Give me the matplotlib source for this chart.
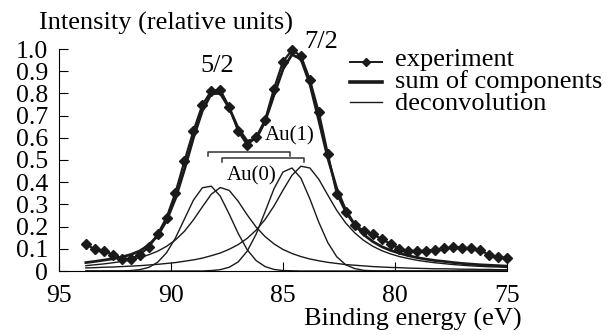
import matplotlib
matplotlib.use("Agg")
import matplotlib.pyplot as plt
from matplotlib.lines import Line2D

# binding energy grid (eV)
energy = [93.8, 93.4, 93.0, 92.6, 92.2, 91.8, 91.4, 91.0, 90.6, 90.2,
          89.8, 89.4, 89.0, 88.6, 88.2, 87.8, 87.4, 87.0, 86.6, 86.2,
          85.8, 85.4, 85.0, 84.6, 84.2, 83.8, 83.4, 83.0, 82.6, 82.2,
          81.8, 81.4, 81.0, 80.6, 80.2, 79.8, 79.4, 79.0, 78.6, 78.2,
          77.8, 77.4, 77.0, 76.6, 76.2, 75.8, 75.4, 75.0]

experiment = [0.120, 0.098, 0.090, 0.074, 0.056, 0.052, 0.074, 0.106, 0.165, 0.240,
              0.353, 0.495, 0.630, 0.748, 0.812, 0.816, 0.737, 0.630, 0.568, 0.602,
              0.680, 0.822, 0.943, 0.995, 0.969, 0.861, 0.714, 0.528, 0.348, 0.265,
              0.207, 0.182, 0.165, 0.145, 0.122, 0.100, 0.091, 0.091, 0.091, 0.096,
              0.102, 0.106, 0.105, 0.102, 0.094, 0.072, 0.061, 0.060]

# deconvolution components
au1_52 = [0.000, 0.000, 0.000, 0.000, 0.000, 0.002, 0.006, 0.016, 0.039, 0.082,
          0.149, 0.234, 0.319, 0.375, 0.382, 0.337, 0.256, 0.169, 0.096, 0.047,
          0.020, 0.007, 0.002, 0.001, 0.000, 0.000, 0.000, 0.000, 0.000, 0.000,
          0.000, 0.000, 0.000, 0.000, 0.000, 0.000, 0.000, 0.000, 0.000, 0.000,
          0.000, 0.000, 0.000, 0.000, 0.000, 0.000, 0.000, 0.000]
au0_52 = [0.024, 0.028, 0.032, 0.037, 0.043, 0.050, 0.060, 0.073, 0.089, 0.111,
          0.140, 0.179, 0.230, 0.289, 0.346, 0.376, 0.363, 0.314, 0.253, 0.198,
          0.155, 0.122, 0.097, 0.079, 0.065, 0.054, 0.046, 0.039, 0.034, 0.029,
          0.026, 0.023, 0.020, 0.018, 0.016, 0.015, 0.013, 0.012, 0.011, 0.010,
          0.010, 0.009, 0.008, 0.008, 0.007, 0.007, 0.006, 0.006]
au1_72 = [0.000, 0.000, 0.000, 0.000, 0.000, 0.000, 0.000, 0.000, 0.000, 0.000,
          0.000, 0.000, 0.000, 0.000, 0.002, 0.006, 0.017, 0.041, 0.089, 0.166,
          0.267, 0.371, 0.446, 0.464, 0.418, 0.325, 0.219, 0.128, 0.064, 0.028,
          0.011, 0.003, 0.001, 0.000, 0.000, 0.000, 0.000, 0.000, 0.000, 0.000,
          0.000, 0.000, 0.000, 0.000, 0.000, 0.000, 0.000, 0.000]
au0_72 = [0.014, 0.015, 0.017, 0.018, 0.020, 0.022, 0.024, 0.027, 0.030, 0.034,
          0.038, 0.044, 0.050, 0.058, 0.069, 0.081, 0.098, 0.119, 0.147, 0.184,
          0.232, 0.293, 0.364, 0.431, 0.472, 0.464, 0.413, 0.342, 0.273, 0.216,
          0.172, 0.138, 0.112, 0.092, 0.077, 0.065, 0.056, 0.048, 0.042, 0.037,
          0.033, 0.029, 0.026, 0.023, 0.021, 0.019, 0.018, 0.016]

# peak positions of the doublets (eV), used for the brackets
au1_peaks = [88.35, 84.69]
au0_peaks = [87.72, 84.06]

components = [au1_52, au0_52, au1_72, au0_72]
total = [sum(vals) for vals in zip(*components)]

ink = '#1a1a1a'
plt.rcParams['font.family'] = 'serif'
plt.rcParams['font.serif'] = ['Liberation Serif', 'DejaVu Serif']
fig = plt.figure(figsize=(6.11, 3.35), dpi=100)
ax = fig.add_axes([59 / 611, 64 / 335, 448 / 611, 222 / 335])

for comp in components:
    ax.plot(energy, comp, color=ink, lw=1.0)
ax.plot(energy, total, color=ink, lw=2.0)
ax.plot(energy, experiment, color=ink, lw=1.6, marker='D', ms=5, clip_on=False)

# doublet brackets
ax.plot([au1_peaks[0], au1_peaks[0], au1_peaks[1], au1_peaks[1]],
        [0.518, 0.538, 0.538, 0.518], color='#333333', lw=1.1)
ax.plot([au0_peaks[0], au0_peaks[0], au0_peaks[1], au0_peaks[1]],
        [0.49, 0.51, 0.51, 0.49], color='#333333', lw=1.1)
ax.text(au1_peaks[1], 0.61, 'Au(1)', fontsize=15, ha='center', va='center')
ax.text(86.38, 0.43, 'Au(0)', fontsize=15, ha='center', va='center')
ax.text(87.95, 0.925, '5/2', fontsize=19, ha='center', va='center')
ax.text(83.3, 1.03, '7/2', fontsize=19, ha='center', va='center')

ax.set_xlim(95, 75)
ax.set_ylim(0, 1.0)
ax.spines['top'].set_visible(False)
ax.spines['right'].set_visible(False)
ax.set_xticks([95, 90, 85, 80, 75])
ax.set_yticks([0, 0.1, 0.2, 0.3, 0.4, 0.5, 0.6, 0.7, 0.8, 0.9, 1.0])
ax.set_yticklabels(['0', '0.1', '0.2', '0.3', '0.4', '0.5', '0.6', '0.7', '0.8', '0.9', '1.0'])
ax.tick_params(direction='in', length=6.5, labelsize=18.5)
ax.tick_params(axis='x', pad=10)
ax.tick_params(axis='y', pad=8)

fig.text(39 / 611, 1 - 23 / 335, 'Intensity (relative units)', fontsize=19, va='center')
fig.text(522 / 611, 1 - 319 / 335, 'Binding energy (eV)', fontsize=19, ha='right', va='center')

# legend drawn by hand to get the tight row spacing of the original
legend_rows = [('experiment', 1.4, 'D'), ('sum of components', 2.6, None), ('deconvolution', 1.0, None)]
for i, (label, width, mk) in enumerate(legend_rows):
    y = 1 - (62 + 20 * i) / 335
    fig.add_artist(Line2D([350 / 611, 382 / 611], [y, y], color=ink, lw=width))
    if mk:
        fig.add_artist(Line2D([366 / 611], [y], color=ink, marker=mk, ms=4.5))
    fig.text(395 / 611, 1 - (66 + 22 * i) / 335, label, fontsize=19, va='baseline')

fig.savefig('out.png', dpi=100)
